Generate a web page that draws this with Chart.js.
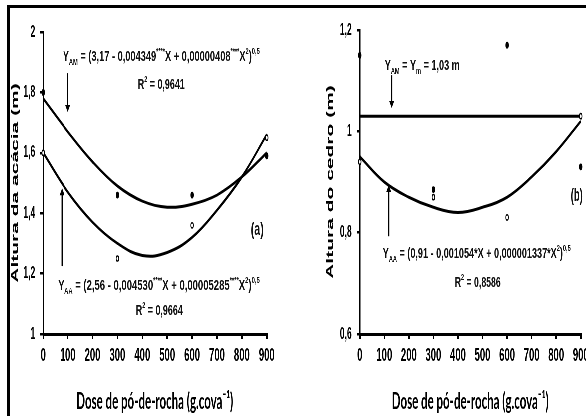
<!DOCTYPE html>
<html>
<head>
<meta charset="utf-8">
<script src="https://cdn.jsdelivr.net/npm/chart.js@4.4.1/dist/chart.umd.min.js"></script>
<style>
  body { margin: 0; background: #fff; overflow: hidden; }
  #outer { position: relative; width: 586px; height: 416px; overflow: hidden; background: #fff; }
  /* the figure is horizontally squeezed, so draw wide and scale by half */
  #inner { position: absolute; left: 0; top: 0; width: 1286px; height: 416px; transform: scaleX(0.5); transform-origin: 0 0; }
  #cA { position: absolute; left: 0; top: 0; }
  #cB { position: absolute; left: 586px; top: 0; }
  .frame { position: absolute; background: #000; }
</style>
</head>
<body>
<div id="outer">
  <div id="inner">
    <canvas id="cA" width="586" height="416"></canvas>
    <canvas id="cB" width="700" height="416"></canvas>
  </div>
  <div class="frame" style="left:7px;top:5px;width:590px;height:3px"></div>
  <div class="frame" style="left:7px;top:5px;width:3px;height:420px"></div>
</div>
<script>
'use strict';
// ---------- Data ------------- //
let doses = [0, 300, 600, 900];
let curveX = [0, 100, 200, 300, 400, 500, 600, 700, 800, 900];
let xTickLabels = ['0', '100', '200', '300', '400', '500', '600', '700', '800', '900'];

// (a) acacia
let acaciaAM = [1.80, 1.46, 1.46, 1.59];
let acaciaAA = [1.60, 1.25, 1.36, 1.65];
let acaciaAMfit = [1.78, 1.67, 1.57, 1.49, 1.44, 1.42, 1.43, 1.46, 1.52, 1.60];
let acaciaAAfit = [1.60, 1.47, 1.37, 1.30, 1.26, 1.27, 1.32, 1.41, 1.52, 1.66];
let acaciaYTicks = ['1', '1,2', '1,4', '1,6', '1,8', '2'];

// (b) cedro
let cedroAM = [1.15, 0.885, 1.17, 0.93];
let cedroAA = [0.94, 0.87, 0.83, 1.03];
let cedroAMfitX = [0, 900];
let cedroAMfit = [1.03, 1.03];
let cedroAAfit = [0.95, 0.90, 0.87, 0.85, 0.84, 0.85, 0.87, 0.91, 0.96, 1.02];
let cedroYTicks = ['0,6', '0,8', '1', '1,2'];

// ---------- Helpers ------------- //
const K = 2; // canvas px per page px horizontally
const NARROW = "'Liberation Sans Narrow', 'Liberation Sans', Arial, sans-serif";

function pts(xs, ys) {
  return xs.map((x, i) => ({x: x, y: ys[i]}));
}

// draws text made of [text, mode] parts: mode 0 normal, -1 subscript, 1 superscript
function drawRich(ctx, parts, x, y, width, size) {
  let w = 0;
  let widths = [];
  for (let p of parts) {
    ctx.font = 'bold ' + (p[1] ? size * 0.62 : size) + 'px ' + NARROW;
    let m = ctx.measureText(p[0]).width;
    widths.push(m);
    w += m;
  }
  ctx.save();
  ctx.translate(x, y);
  ctx.scale(width * K / w, 1);
  ctx.fillStyle = '#111';
  ctx.textBaseline = 'alphabetic';
  ctx.textAlign = 'left';
  let cx = 0;
  parts.forEach((p, i) => {
    ctx.font = 'bold ' + (p[1] ? size * 0.62 : size) + 'px ' + NARROW;
    let dy = p[1] === -1 ? size * 0.28 : (p[1] === 1 ? -size * 0.48 : 0);
    ctx.fillText(p[0], cx, dy);
    cx += widths[i];
  });
  ctx.restore();
}

function drawArrow(ctx, x, y1, y2) {
  // y2 is the tip
  let dir = y2 > y1 ? 1 : -1;
  ctx.save();
  ctx.strokeStyle = '#000';
  ctx.fillStyle = '#000';
  ctx.lineWidth = 2.5;
  ctx.beginPath();
  ctx.moveTo(x, y1);
  ctx.lineTo(x, y2 - dir * 6);
  ctx.stroke();
  ctx.beginPath();
  ctx.moveTo(x - 5, y2 - dir * 7);
  ctx.lineTo(x + 5, y2 - dir * 7);
  ctx.lineTo(x, y2);
  ctx.closePath();
  ctx.fill();
  ctx.restore();
}

const notesPlugin = {
  id: 'notes',
  afterDatasetsDraw(chart, args, opts) {
    let ctx = chart.ctx;
    let xs = chart.scales.x, ys = chart.scales.y;
    for (let a of opts.arrows) {
      drawArrow(ctx, xs.getPixelForValue(a[0]), ys.getPixelForValue(a[1]), ys.getPixelForValue(a[2]));
    }
    for (let t of opts.texts) {
      drawRich(ctx, t.parts, (t.x - opts.offset) * K, t.y, t.w, t.size);
    }
  }
};

function makeOptions(yMin, yMax, yTicks, yTitle, yWidth, yTitlePad, rightPad, top, notes) {
  return {
    responsive: false,
    devicePixelRatio: 1,
    animation: false,
    layout: {padding: {left: 0, right: rightPad, top: top, bottom: 0}},
    plugins: {legend: {display: false}, tooltip: {enabled: false}, notes: notes},
    scales: {
      x: {
        type: 'linear', min: 0, max: 900,
        afterFit(scale) { scale.height = 82; },
        border: {display: true, color: '#000', width: 3},
        grid: {drawOnChartArea: false, drawTicks: true, tickLength: 5, color: '#000', lineWidth: 3},
        ticks: {
          stepSize: 100, color: '#000', padding: 5, maxRotation: 0,
          font: {family: NARROW, size: 19, weight: 'bold'},
          callback: (v, i) => xTickLabels[i]
        },
        title: {
          display: true, text: 'Dose de pó-de-rocha (g.cova⁻¹)', color: '#000',
          font: {family: 'Lato, sans-serif', size: 23, weight: 'bold'},
          padding: {top: 0, bottom: 1}
        }
      },
      y: {
        type: 'linear', min: yMin, max: yMax,
        afterFit(scale) { scale.width = yWidth; },
        border: {display: true, color: '#000', width: 2.5},
        grid: {drawOnChartArea: false, drawTicks: true, tickLength: 6, color: '#000', lineWidth: 2.5},
        ticks: {
          stepSize: 0.2, color: '#000', padding: 10,
          font: {family: NARROW, size: 17, weight: 'bold'},
          callback: (v, i) => yTicks[i]
        },
        title: {
          display: true, text: yTitle, color: '#000',
          font: {family: "'Liberation Sans', Arial, sans-serif", size: 21, weight: 'bold'},
          padding: {top: yTitlePad, bottom: 0}
        }
      }
    }
  };
}

function fitLine(data) {
  return {data: data, showLine: true, borderColor: '#000', borderWidth: 3, pointRadius: 0,
    tension: 0.4, fill: false, order: 2, clip: false};
}
function marks(data, filled) {
  return {data: data, showLine: false, pointRadius: 2.6, pointBorderWidth: 1.5,
    pointBorderColor: '#000', pointBackgroundColor: filled ? '#000' : '#fff', order: 1, clip: false};
}

// ---------- Chart (a) ------------- //
let notesA = {
  offset: 0,
  arrows: [[100, 1.864, 1.735], [76, 1.225, 1.483]],
  texts: [
    {x: 63, y: 61, w: 197, size: 15, parts: [['Y', 0], ['AM', -1], [' = (3,17 - 0,004349', 0], ['****', 1],
      ['X + 0,00000408', 0], ['****', 1], ['X', 0], ['2', 1], [')', 0], ['0,5', 1]]},
    {x: 138, y: 89, w: 47, size: 15, parts: [['R', 0], ['2', 1], [' = 0,9641', 0]]},
    {x: 251, y: 235, w: 13, size: 19, parts: [['(a)', 0]]},
    {x: 58, y: 290, w: 202, size: 15, parts: [['Y', 0], ['AA', -1], [' = (2,56 - 0,004530', 0], ['****', 1],
      ['X + 0,00005285', 0], ['****', 1], ['X', 0], ['2', 1], [')', 0], ['0,5', 1]]},
    {x: 136, y: 315, w: 47, size: 15, parts: [['R', 0], ['2', 1], [' = 0,9664', 0]]}
  ]
};

new Chart(document.getElementById('cA'), {
  type: 'scatter',
  data: {
    datasets: [
      fitLine(pts(curveX, acaciaAMfit)),
      fitLine(pts(curveX, acaciaAAfit)),
      marks(pts(doses, acaciaAM), true),
      marks(pts(doses, acaciaAA), false)
    ]
  },
  options: makeOptions(1, 2, acaciaYTicks, 'Altura da acácia (m)', 86, 18, 52, 32, notesA),
  plugins: [notesPlugin]
});

// ---------- Chart (b) ------------- //
let notesB = {
  offset: 293,
  arrows: [[130, 1.111, 1.046], [118, 0.793, 0.894]],
  texts: [
    {x: 385, y: 70, w: 75, size: 15, parts: [['Y', 0], ['AM', -1], [' = Y', 0], ['m', -1], [' = 1,03 m', 0]]},
    {x: 571, y: 201, w: 12, size: 19, parts: [['(b)', 0]]},
    {x: 383, y: 258, w: 188, size: 15, parts: [['Y', 0], ['AA', -1], [' = (0,91 - 0,001054*X + 0,000001337*X', 0],
      ['2', 1], [')', 0], ['0,5', 1]]},
    {x: 455, y: 287, w: 46, size: 15, parts: [['R', 0], ['2', 1], [' = 0,8586', 0]]}
  ]
};

new Chart(document.getElementById('cB'), {
  type: 'scatter',
  data: {
    datasets: [
      fitLine(pts(cedroAMfitX, cedroAMfit)),
      fitLine(pts(curveX, cedroAAfit)),
      marks(pts(doses, cedroAM), true),
      marks(pts(doses, cedroAA), false)
    ]
  },
  options: makeOptions(0.6, 1.2, cedroYTicks, 'Altura do cedro (m)', 134, 63, 124, 30, notesB),
  plugins: [notesPlugin]
});
</script>
</body>
</html>
